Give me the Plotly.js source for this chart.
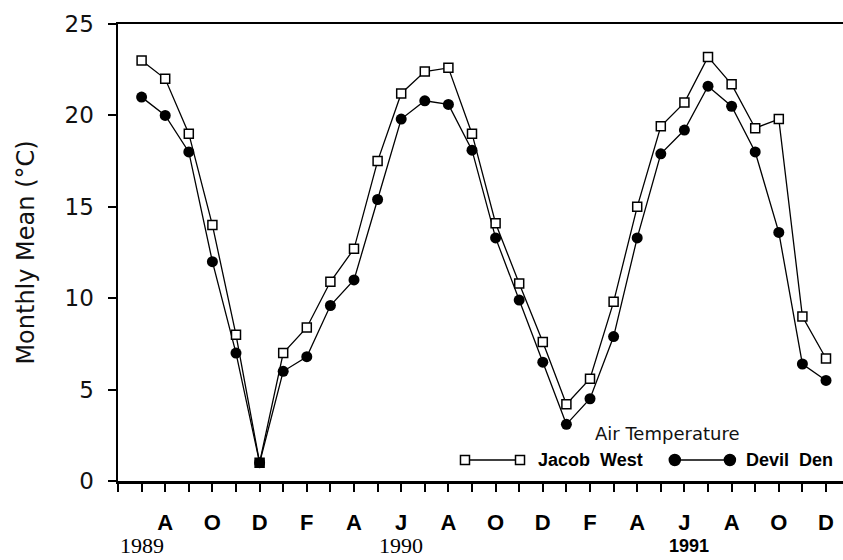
<!DOCTYPE html>
<html>
<head>
<meta charset="utf-8">
<script src="https://cdn.plot.ly/plotly-3.0.1.min.js"></script>
<style>html,body{margin:0;padding:0;background:#fff;}#chart{width:843px;height:560px;}</style>
</head>
<body>
<div id="chart"></div>
<script>
// Months with data (July 1989 .. December 1991)
const months = ['1989-07','1989-08','1989-09','1989-10','1989-11','1989-12',
  '1990-01','1990-02','1990-03','1990-04','1990-05','1990-06','1990-07','1990-08','1990-09','1990-10','1990-11','1990-12',
  '1991-01','1991-02','1991-03','1991-04','1991-05','1991-06','1991-07','1991-08','1991-09','1991-10','1991-11','1991-12'];
// Monthly mean air temperature (°C)
const jacobWest = [23.0, 22.0, 19.0, 14.0, 8.0, 1.0,
  7.0, 8.4, 10.9, 12.7, 17.5, 21.2, 22.4, 22.6, 19.0, 14.1, 10.8, 7.6,
  4.2, 5.6, 9.8, 15.0, 19.4, 20.7, 23.2, 21.7, 19.3, 19.8, 9.0, 6.7];
const devilDen = [21.0, 20.0, 18.0, 12.0, 7.0, 1.0,
  6.0, 6.8, 9.6, 11.0, 15.4, 19.8, 20.8, 20.6, 18.1, 13.3, 9.9, 6.5,
  3.1, 4.5, 7.9, 13.3, 17.9, 19.2, 21.6, 20.5, 18.0, 13.6, 6.4, 5.5];
// Axis months June 1989 .. December 1991, letters on every other month
const axisStart = '1989-06';
const tickLabels = ['', '', 'A', '', 'O', '', 'D', '', 'F', '', 'A', '', 'J', '', 'A', '', 'O', '', 'D', '', 'F', '', 'A', '', 'J', '', 'A', '', 'O', '', 'D'];
const years = ['1989', '1990', '1991'];
const yearMonths = ['1989-07', '1990-06', '1991-06'];
const yTicks = [0, 5, 10, 15, 20, 25];

function monthIndex(s) {
  const [y, m] = s.split('-').map(Number);
  const [y0, m0] = axisStart.split('-').map(Number);
  return (y - y0) * 12 + (m - m0);
}
const xs = months.map(monthIndex);
const tickVals = tickLabels.map((_, i) => i);

const jacobColors = jacobWest.map((v, i) => v === devilDen[i] ? 'black' : 'white');

const traces = [
  {
    x: xs, y: devilDen, name: 'Devil Den', type: 'scatter', mode: 'lines+markers',
    line: {color: 'black', width: 1.3},
    marker: {symbol: 'circle', size: 11, color: 'black'},
    showlegend: false, hoverinfo: 'skip'
  },
  {
    x: xs, y: jacobWest, name: 'Jacob West', type: 'scatter', mode: 'lines+markers',
    line: {color: 'black', width: 1.3},
    marker: {symbol: 'square', size: 9, color: jacobColors, line: {color: 'black', width: 1.5}},
    showlegend: false, hoverinfo: 'skip'
  }
];

const tickFontY = {family: 'DejaVu Sans', size: 23, color: '#111'};
const titleFontY = {family: 'DejaVu Sans', size: 24, color: '#111'};

const annotations = years.map((t, i) => ({
  text: t, xref: 'x', yref: 'paper', x: monthIndex(yearMonths[i]) + (i === 2 ? 0.2 : 0), y: -0.142,
  xanchor: 'center', yanchor: 'middle', showarrow: false,
  font: i === 2 ? {family: 'Liberation Sans', size: 18, weight: 'bold', color: 'black'}
               : {family: 'Liberation Serif', size: 22, color: 'black'}
}));
annotations.push(
  {text: 'Air Temperature', xref: 'paper', yref: 'paper', x: 0.757, y: 0.103, xanchor: 'center', yanchor: 'middle',
   showarrow: false, font: {family: 'DejaVu Sans', size: 18, color: '#111'}},
  {text: 'Jacob  West', xref: 'paper', yref: 'paper', x: 0.576, y: 0.046, xanchor: 'left', yanchor: 'middle',
   showarrow: false, font: {family: 'Liberation Sans', size: 18, weight: 'bold', color: 'black'}},
  {text: 'Devil  Den', xref: 'paper', yref: 'paper', x: 0.863, y: 0.046, xanchor: 'left', yanchor: 'middle',
   showarrow: false, font: {family: 'Liberation Sans', size: 18, weight: 'bold', color: 'black'}}
);

function keyShape(type, xp, filled, half) {
  return {type: type, xref: 'paper', yref: 'paper', xsizemode: 'pixel', ysizemode: 'pixel',
    xanchor: xp, yanchor: 0.046, x0: -half, x1: half, y0: -half, y1: half,
    line: {color: 'black', width: 1.5}, fillcolor: filled ? 'black' : 'white'};
}
function keyLine(xa, xb) {
  return {type: 'line', xref: 'paper', yref: 'paper', x0: xa, x1: xb, y0: 0.046, y1: 0.046,
    line: {color: 'black', width: 1.3}};
}
const shapes = [
  keyLine(0.4786, 0.5545), keyShape('rect', 0.4786, false, 4.5), keyShape('rect', 0.5545, false, 4.5),
  keyLine(0.768, 0.844), keyShape('circle', 0.768, true, 5.5), keyShape('circle', 0.844, true, 5.5)
];

const layout = {
  width: 843, height: 560,
  margin: {l: 118, r: 0, t: 24, b: 79},
  paper_bgcolor: 'white', plot_bgcolor: 'white',
  showlegend: false,
  xaxis: {
    range: [0, 30.72], tickvals: tickVals, ticktext: tickLabels,
    ticks: 'outside', ticklen: 8, tickwidth: 2, tickcolor: 'black',
    showline: true, linewidth: 2.5, linecolor: 'black', mirror: true,
    showgrid: false, zeroline: false, ticklabelstandoff: 12,
    tickfont: {family: 'Liberation Sans', size: 22, weight: 'bold', color: 'black'}
  },
  yaxis: {
    range: [0, 25], tickvals: yTicks,
    ticks: 'outside', ticklen: 8, tickwidth: 2, tickcolor: 'black',
    showline: true, linewidth: 2.5, linecolor: 'black',
    showgrid: false, zeroline: false, ticklabelstandoff: 9,
    tickfont: tickFontY,
    title: {text: 'Monthly Mean (°C)', font: titleFontY, standoff: 23}
  },
  annotations: annotations,
  shapes: shapes
};

Plotly.newPlot('chart', traces, layout, {staticPlot: true, displayModeBar: false});
</script>
</body>
</html>
